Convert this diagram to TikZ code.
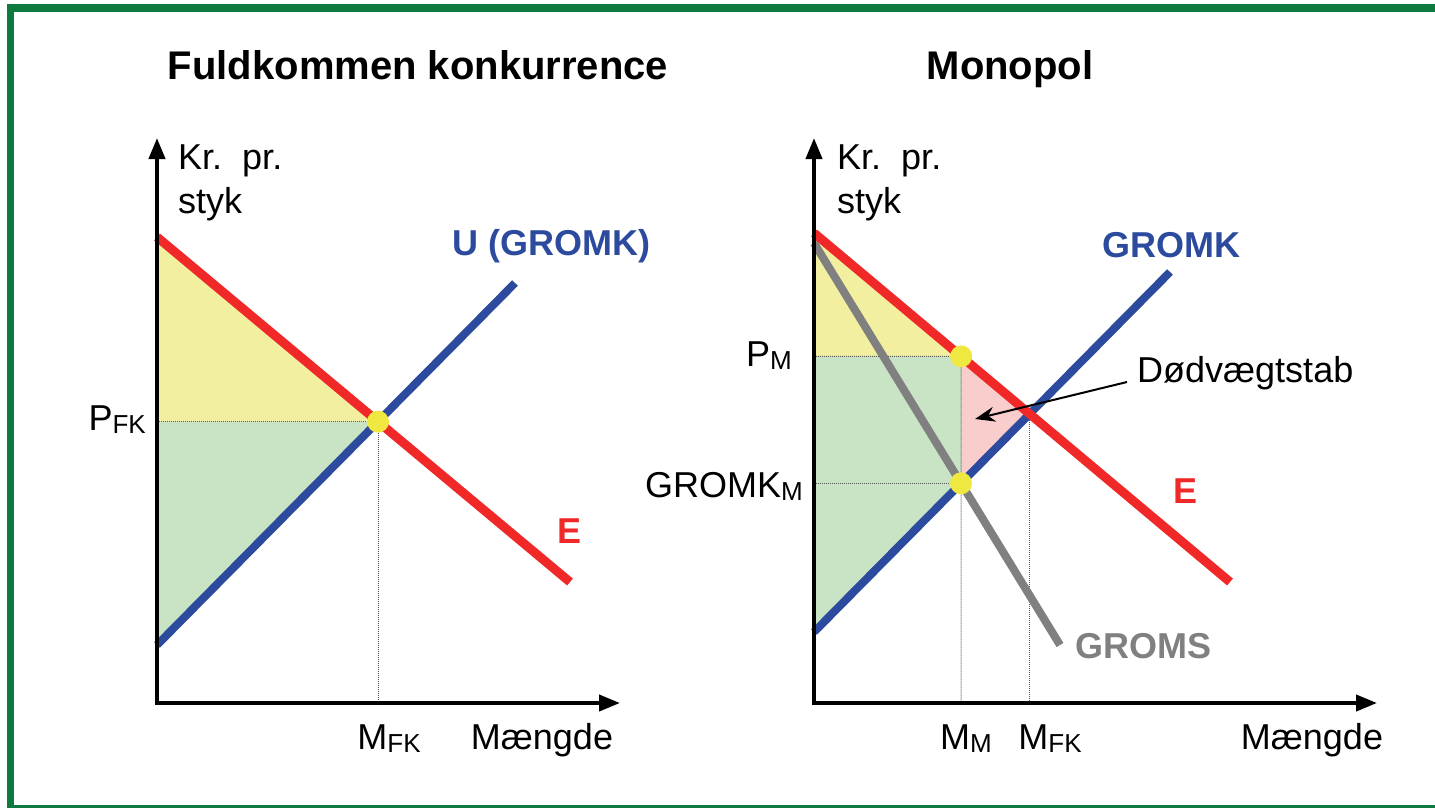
\documentclass[tikz,border=0pt]{standalone}
\usepackage{fontspec}
\setmainfont{Liberation Sans}
\usepackage{xcolor}
\usetikzlibrary{arrows.meta, positioning}
\definecolor{framegreen}{HTML}{0D7A40}
\definecolor{demandred}{HTML}{F02828}
\definecolor{costblue}{HTML}{2D4B9E}
\definecolor{mrgray}{HTML}{808080}
\definecolor{fillyellow}{HTML}{F2F0A0}
\definecolor{fillgreen}{HTML}{C8E4C4}
\definecolor{fillpink}{HTML}{FACDCD}
\definecolor{dotyellow}{HTML}{EEE840}
\newcommand{\lowsub}[1]{\raisebox{-3pt}{\fontsize{26}{26}\selectfont #1}}
\tikzset{
  axisline/.style={line width=4pt, {Triangle[length=21pt,width=16pt]}-{Triangle[length=21pt,width=16pt]}},
  demandline/.style={line width=9pt, draw=demandred},
  costline/.style={line width=8pt, draw=costblue},
  mrline/.style={line width=8pt, draw=mrgray},
  guideline/.style={line width=1pt, densely dotted, draw=black!65},
  eqdot/.style={circle, fill=dotyellow, minimum size=22pt, inner sep=0pt},
  axislabel/.style={font=\fontsize{36}{44}\selectfont, inner sep=0pt},
  curvelabel/.style={font=\fontsize{36}{44}\selectfont\bfseries, inner sep=0pt},
  paneltitle/.style={font=\fontsize{40}{44}\selectfont\bfseries, inner sep=0pt},
  pointer/.style={line width=2pt, -{Stealth[length=20pt,width=15pt]}},
}
\begin{document}
\begin{tikzpicture}[x=1pt, y=-1pt]
  \useasboundingbox (0,0) rectangle (1435,807);

  % Frame
  \draw[framegreen, line width=7.5pt] (1445,8) -- (10.5,8) -- (10.5,808.5) -- (1445,808.5);

  % Left panel: perfect competition
  \coordinate (o1) at (157,703);
  \coordinate (ytop1) at (157,138);
  \coordinate (xend1) at (620,703);
  \coordinate (e1a) at (157,237);
  \coordinate (e1b) at (570,582);
  \coordinate (u1a) at (157,645);
  \coordinate (u1b) at (515,283);
  \coordinate (eq1) at (intersection of e1a--e1b and u1a--u1b);

  \fill[fillyellow] (e1a) -- (eq1) -- (eq1 -| o1) -- cycle;
  \fill[fillgreen] (eq1 -| o1) -- (eq1) -- (u1a) -- cycle;
  \draw[guideline] (eq1 -| o1) -- (eq1) -- (eq1 |- o1);
  \draw[costline] (u1a) -- (u1b);
  \draw[demandline] (e1a) -- (e1b);
  \draw[axisline] (ytop1) -- (o1) -- (xend1);
  \node[eqdot] (dot1) at (eq1) {};

  \node[paneltitle, anchor=base] (title1) at (418,79) {Fuldkommen konkurrence};
  \node[axislabel, anchor=north west, align=left] (ylab1) at (178,145) {Kr.~~pr.\\styk};
  \node[axislabel, anchor=base east] (pfk) at (146,430) {P\lowsub{FK}};
  \node[axislabel, anchor=base] (mfk1) at (389,749) {M\lowsub{FK}};
  \node[axislabel, anchor=base] (xlab1) at (542,749) {Mængde};
  \node[curvelabel, text=costblue, anchor=base west] (ulab) at (452,255) {U (GROMK)};
  \node[curvelabel, text=demandred, anchor=base west] (elab1) at (557,543) {E};

  % Right panel: monopoly
  \coordinate (o2) at (814,703);
  \coordinate (ytop2) at (814,138);
  \coordinate (xend2) at (1377,703);
  \coordinate (e2a) at (814,233);
  \coordinate (e2b) at (1230,582);
  \coordinate (u2a) at (814,632);
  \coordinate (u2b) at (1170,272);
  \coordinate (mr2a) at (814,243);
  \coordinate (mr2b) at (1060,645);
  \coordinate (qm) at (intersection of mr2a--mr2b and u2a--u2b);
  \coordinate (pm) at (intersection of e2a--e2b and qm--{qm |- ytop2});
  \coordinate (eq2) at (intersection of e2a--e2b and u2a--u2b);

  \fill[fillyellow] (e2a) -- (pm) -- (pm -| o2) -- cycle;
  \fill[fillgreen] (pm -| o2) -- (pm) -- (qm) -- (u2a) -- cycle;
  \fill[fillpink] (pm) -- (eq2) -- (qm) -- cycle;
  \draw[guideline] (pm -| o2) -- (pm) -- (qm |- o2);
  \draw[guideline] (qm -| o2) -- (qm);
  \draw[guideline] (eq2) -- (eq2 |- o2);
  \draw[mrline] (mr2a) -- (mr2b);
  \draw[costline] (u2a) -- (u2b);
  \draw[demandline] (e2a) -- (e2b);
  \draw[axisline] (ytop2) -- (o2) -- (xend2);
  \node[eqdot] (dotpm) at (pm) {};
  \node[eqdot] (dotqm) at (qm) {};

  \node[paneltitle, anchor=base] (title2) at (1010,79) {Monopol};
  \node[axislabel, anchor=north west, align=left] (ylab2) at (837,145) {Kr.~~pr.\\styk};
  \node[axislabel, anchor=base east] (pmlab) at (792,366) {P\lowsub{M}};
  \node[axislabel, anchor=base east] (gmlab) at (803,497) {GROMK\lowsub{M}};
  \node[axislabel, anchor=base] (mmlab) at (966,749) {M\lowsub{M}};
  \node[axislabel, anchor=base] (mfk2) at (1050,749) {M\lowsub{FK}};
  \node[axislabel, anchor=base] (xlab2) at (1312,749) {Mængde};
  \node[curvelabel, text=costblue, anchor=base west] (gromklab) at (1102,257) {GROMK};
  \node[curvelabel, text=demandred, anchor=base west] (elab2) at (1173,503) {E};
  \node[curvelabel, text=mrgray, anchor=base west] (gromslab) at (1075,658) {GROMS};

  % Deadweight loss pointer
  \node[axislabel, anchor=base west] (dwl) at (1137,382) {Dødvægtstab};
  \coordinate[left=10pt of dwl.base west] (dwtail);
  \coordinate (dwtip) at (975,419);
  \draw[pointer] (dwtail) -- (dwtip);
\end{tikzpicture}
\end{document}
